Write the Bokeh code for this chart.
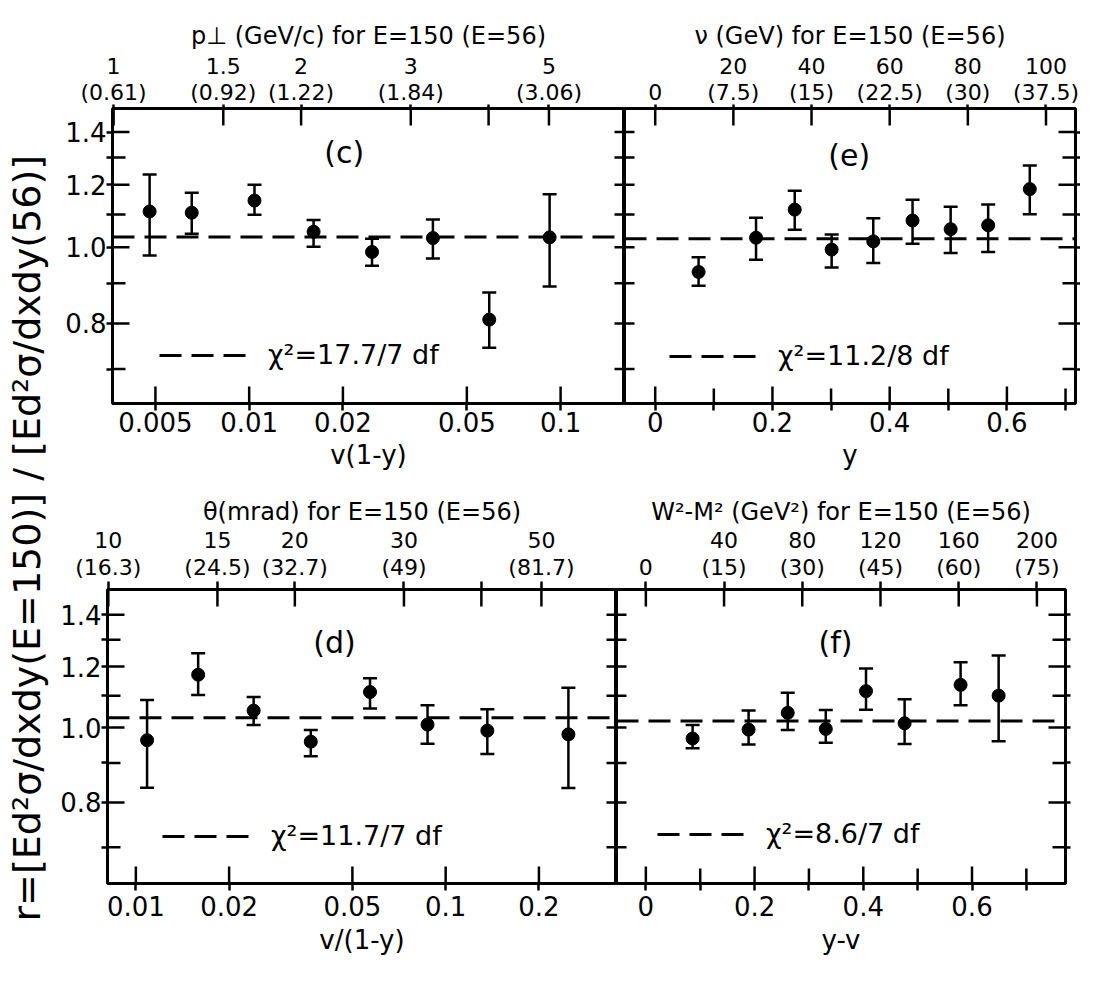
import math
from bokeh.plotting import figure
from bokeh.models import (FixedTicker, CustomJSTickFormatter, LogAxis, LinearAxis,
                          Whisker, TeeHead, ColumnDataSource, Legend, LegendItem,
                          Label, Range1d)
from bokeh.core.properties import value
from bokeh.layouts import row, column
from bokeh.embed import file_html
from bokeh.resources import INLINE

FONT = "DejaVu Sans"

# ---------------- data ----------------
# (c)  r vs v(1-y)
c_x  = [0.00479, 0.00654, 0.0104, 0.0161, 0.0248, 0.0389, 0.059, 0.0922]
c_r  = [1.110, 1.106, 1.146, 1.046, 0.986, 1.027, 0.809, 1.029]
c_hi = [1.237, 1.172, 1.200, 1.083, 1.025, 1.084, 0.876, 1.167]
c_lo = [0.976, 1.040, 1.099, 1.001, 0.947, 0.967, 0.745, 0.891]
c_fit = 1.03
c_chi = "χ²=17.7/7 df"
c_xticks = [0.005, 0.01, 0.02, 0.05, 0.1]
c_xlabels = ["0.005", "0.01", "0.02", "0.05", "0.1"]
c_top_p = [1, 1.5, 2, 3, 4, 5]            # p_perp (GeV/c), E=150
c_top_upper = ["1", "1.5", "2", "3", "", "5"]
c_top_lower = ["(0.61)", "(0.92)", "(1.22)", "(1.84)", "", "(3.06)"]
C_P = 0.00367                               # v(1-y) at p_perp = 1 GeV/c

# (e)  r vs y
e_x  = [0.074, 0.172, 0.238, 0.301, 0.372, 0.439, 0.504, 0.568, 0.639]
e_r  = [0.930, 1.028, 1.116, 0.993, 1.017, 1.081, 1.054, 1.066, 1.185]
e_hi = [0.971, 1.090, 1.179, 1.038, 1.088, 1.149, 1.125, 1.133, 1.270]
e_lo = [0.893, 0.964, 1.052, 0.942, 0.955, 1.010, 0.983, 0.986, 1.101]
e_fit = 1.025
e_chi = "χ²=11.2/8 df"
e_xticks = [0, 0.2, 0.4, 0.6]
e_xminor = [0.1, 0.3, 0.5, 0.7]
e_xlabels = ["0", "0.2", "0.4", "0.6"]
e_top_nu = [0, 20, 40, 60, 80, 100]         # nu (GeV), E=150
e_top_upper = ["", "20", "40", "60", "80", "100"]
e_top_lower = ["0", "(7.5)", "(15)", "(22.5)", "(30)", "(37.5)"]
E_BEAM = 150.0

# (d)  r vs v/(1-y)
d_x  = [0.01087, 0.01589, 0.0240, 0.0367, 0.0570, 0.0874, 0.1363, 0.249]
d_r  = [0.963, 1.171, 1.052, 0.959, 1.112, 1.009, 0.991, 0.980]
d_hi = [1.086, 1.248, 1.096, 0.993, 1.159, 1.069, 1.056, 1.126]
d_lo = [0.836, 1.102, 1.008, 0.918, 1.059, 0.953, 0.924, 0.835]
d_fit = 1.03
d_chi = "χ²=11.7/7 df"
d_xticks = [0.01, 0.02, 0.05, 0.1, 0.2]
d_xlabels = ["0.01", "0.02", "0.05", "0.1", "0.2"]
d_top_theta = [10, 15, 20, 30, 40, 50]      # theta (mrad), E=150
d_top_upper = ["10", "15", "20", "30", "", "50"]
d_top_lower = ["(16.3)", "(24.5)", "(32.7)", "(49)", "", "(81.7)"]
C_TH = 8.15e-5                              # v/(1-y) per mrad^2

# (f)  r vs y-v
f_x  = [0.086, 0.189, 0.261, 0.331, 0.405, 0.476, 0.579, 0.649]
f_r  = [0.968, 0.994, 1.045, 0.996, 1.115, 1.013, 1.136, 1.100]
f_hi = [1.008, 1.052, 1.110, 1.054, 1.193, 1.088, 1.215, 1.240]
f_lo = [0.940, 0.951, 0.993, 0.956, 1.055, 0.952, 1.069, 0.960]
f_fit = 1.02
f_chi = "χ²=8.6/7 df"
f_xticks = [0, 0.2, 0.4, 0.6]
f_xminor = [0.1, 0.3, 0.5, 0.7]
f_xlabels = ["0", "0.2", "0.4", "0.6"]
f_top_w = [0, 40, 80, 120, 160, 200]        # W^2-M^2 (GeV^2), E=150
f_top_upper = ["", "40", "80", "120", "160", "200"]
f_top_lower = ["0", "(15)", "(30)", "(45)", "(60)", "(75)"]
W_PER_UNIT = 278.0                          # GeV^2 per unit of (y-v)

Y_TICKS = [0.8, 1.0, 1.2, 1.4]
Y_MINOR = [0.7, 0.9, 1.1, 1.3]
Y_LABELS = ["0.8", "1.0", "1.2", "1.4"]

Y_LABEL_TEXT = "r=[Ed²σ/dxdy(E=150)] / [Ed²σ/dxdy(56)]"


# ---------------- helpers ----------------
def fmt(ticks, labels):
    return CustomJSTickFormatter(args=dict(t=list(ticks), l=list(labels)), code="""
let best = 0, bd = Infinity;
for (let i = 0; i < t.length; i++) {
  const d = Math.abs(tick - t[i]);
  if (d < bd) { bd = d; best = i; }
}
return l[best];""")


def style_axis(ax):
    ax.major_tick_in = 0
    ax.major_tick_out = 0
    ax.minor_tick_in = 0
    ax.minor_tick_out = 0
    ax.axis_line_color = None
    ax.major_tick_line_color = None
    ax.minor_tick_line_color = None
    ax.major_label_text_font = FONT
    ax.major_label_text_color = "black"
    ax.axis_label_text_font = FONT
    ax.axis_label_text_font_style = "normal"
    ax.axis_label_text_color = "black"


def tick_out(ax, length, minor=True):
    ax.major_tick_out = length
    ax.major_tick_line_color = "black"
    ax.major_tick_line_width = 2.5
    if minor:
        ax.minor_tick_out = length
        ax.minor_tick_line_color = "black"
        ax.minor_tick_line_width = 2.5


def panel(cfg):
    xt = cfg["xtype"]
    labeled = cfg["left_labels"]
    p = figure(width=cfg["w"], height=cfg["h"], x_axis_type=xt, y_axis_type="log",
               x_range=Range1d(*cfg["xr"]), y_range=Range1d(*cfg["yr"]),
               y_axis_location="left" if labeled else None,
               output_backend="svg", toolbar_location=None,
               min_border_left=cfg["bl"], min_border_right=cfg["br"],
               min_border_top=cfg["bt"], min_border_bottom=cfg["bb"])
    p.grid.visible = False
    p.outline_line_color = "black"
    p.outline_line_width = 3
    p.background_fill_color = "white"
    p.border_fill_color = "white"
    x0, x1 = cfg["xr"]
    y0, y1 = cfg["yr"]
    fw = cfg["w"] - cfg["bl"] - cfg["br"]
    fh = cfg["h"] - cfg["bt"] - cfg["bb"]

    def xmove(v, px):
        if xt == "log":
            return v * math.exp(px * math.log(x1 / x0) / fw)
        return v + px * (x1 - x0) / fw

    def ymove(v, px):
        return v * math.exp(px * math.log(y1 / y0) / fh)

    # bottom axis
    bx = p.xaxis[0]
    bx.ticker = FixedTicker(ticks=cfg["xticks"], minor_ticks=cfg.get("xminor", []))
    bx.formatter = fmt(cfg["xticks"], cfg["xlabels"])
    style_axis(bx)
    tick_out(bx, 7)
    bx.major_label_text_font_size = "26px"
    bx.major_label_standoff = cfg["bs"] - 7
    bx.axis_label = cfg["xlabel"]
    bx.axis_label_text_font_size = "26px"
    bx.axis_label_standoff = cfg["bls"]

    if labeled:
        ly = p.yaxis[0]
        ly.ticker = FixedTicker(ticks=Y_TICKS, minor_ticks=Y_MINOR)
        ly.formatter = fmt(Y_TICKS, Y_LABELS)
        style_axis(ly)
        tick_out(ly, 6)
        ly.major_label_text_font_size = "26px"
        ly.major_label_standoff = 0
    else:
        ry = LogAxis(ticker=FixedTicker(ticks=Y_TICKS, minor_ticks=Y_MINOR),
                     formatter=CustomJSTickFormatter(code="return '';"))
        style_axis(ry)
        tick_out(ry, 5)
        ry.major_label_standoff = 0
        ry.major_label_text_font_size = "1px"
        p.add_layout(ry, "right")

    # top axes (inner: parenthesised E=56 values; outer: E=150 values + title)
    TopAxis = LogAxis if xt == "log" else LinearAxis
    inner = TopAxis(ticker=FixedTicker(ticks=cfg["tp"]), formatter=fmt(cfg["tp"], cfg["t_lower"]))
    style_axis(inner)
    tick_out(inner, cfg["tt"], minor=False)
    inner.major_label_text_font_size = "22px"
    inner.major_label_standoff = cfg["s1"] - cfg["tt"]
    p.add_layout(inner, "above")
    outer = TopAxis(ticker=FixedTicker(ticks=cfg["tp"]), formatter=fmt(cfg["tp"], cfg["t_upper"]))
    style_axis(outer)
    outer.major_label_text_font_size = "22px"
    outer.major_label_standoff = cfg["s2"]
    outer.axis_label = cfg["title"]
    outer.axis_label_text_font_size = "24px"
    outer.axis_label_standoff = cfg["s3"]
    p.add_layout(outer, "above")

    # inward tick marks: one continuous path per side along the frame edge
    def edge_path(ticks_len, along0, along1, horizontal, edge, inward):
        A, B = [along0], [edge]
        for t, L in sorted(ticks_len):
            A += [t, t, t]
            B += [edge, inward(edge, L), edge]
        A.append(along1)
        B.append(edge)
        if horizontal:
            p.line(A, B, line_color="black", line_width=2.5)
        else:
            p.line(B, A, line_color="black", line_width=2.5)

    bottom = [(v, 17) for v in cfg["xticks"]] + [(v, 15) for v in cfg.get("xminor", [])]
    edge_path(bottom, x0, x1, True, y0, lambda e, L: ymove(e, L))
    top = [(v, 17) for v in cfg["tp"]]
    edge_path(top, x0, x1, True, y1, lambda e, L: ymove(e, -L))
    outer_len = [17] * len(Y_TICKS) + [13] * len(Y_MINOR)
    shared_len = [10] * (len(Y_TICKS) + len(Y_MINOR))
    left_len = outer_len if labeled else shared_len
    right_len = shared_len if labeled else outer_len
    edge_path(list(zip(Y_TICKS + Y_MINOR, left_len)), y0, y1, False, x0,
              lambda e, L: xmove(e, L))
    edge_path(list(zip(Y_TICKS + Y_MINOR, right_len)), y0, y1, False, x1,
              lambda e, L: xmove(e, -L))

    # data
    src = ColumnDataSource(dict(x=cfg["x"], r=cfg["r"], hi=cfg["hi"], lo=cfg["lo"]))
    p.add_layout(Whisker(base="x", upper="hi", lower="lo", source=src, dimension="height",
                         line_width=2.5, line_color="black",
                         upper_head=TeeHead(size=14, line_width=2.5, line_color="black"),
                         lower_head=TeeHead(size=14, line_width=2.5, line_color="black")))
    p.scatter("x", "r", source=src, size=13, marker="circle",
              fill_color="black", line_color="black")

    # fit line (constant) across the panel
    fit = p.line(x=[x0, x1], y=[cfg["fit"], cfg["fit"]], line_dash="22 10",
                 line_width=3, line_color="black")
    leg = Legend(items=[LegendItem(label=value(cfg["chi"]), renderers=[fit])],
                 location=cfg["legloc"], glyph_width=93, glyph_height=30,
                 label_text_font=FONT, label_text_font_size="27px", label_standoff=16,
                 label_text_color="black",
                 padding=0, margin=0, spacing=0, border_line_color=None,
                 background_fill_alpha=0)
    p.add_layout(leg)

    p.add_layout(Label(x=cfg["tag_xy"][0], y=cfg["tag_xy"][1], text=cfg["tag"],
                       text_font=FONT, text_font_size="30px", text_color="black",
                       text_align="center", text_baseline="middle"))
    return p


TOP_H, TOP_BT, TOP_BB = 484, 108, 81
BOT_H, BOT_BT, BOT_BB = 483, 105, 84
TOP_YR = (0.633, 1.50)
BOT_YR = (0.628, 1.51)

pc = panel(dict(xtype="log", w=572, h=TOP_H, bl=60, br=0, bt=TOP_BT, bb=TOP_BB,
                xr=(0.00364, 0.1604), yr=TOP_YR,
                xticks=c_xticks, xlabels=c_xlabels, xlabel="v(1-y)", bs=8, bls=5,
                left_labels=True,
                tp=[C_P * v * v for v in c_top_p], t_upper=c_top_upper, t_lower=c_top_lower,
                title="p⊥ (GeV/c) for E=150 (E=56)", tt=4, s1=4, s2=3, s3=5,
                x=c_x, r=c_r, hi=c_hi, lo=c_lo, fit=c_fit, chi=c_chi, legloc=(47, 33),
                tag="(c)", tag_xy=(0.0202, 1.319)))

pe = panel(dict(xtype="linear", w=456, h=TOP_H, bl=0, br=5, bt=TOP_BT, bb=TOP_BB,
                xr=(-0.0524, 0.717), yr=TOP_YR,
                xticks=e_xticks, xminor=e_xminor, xlabels=e_xlabels, xlabel="y", bs=8, bls=5,
                left_labels=False,
                tp=[v / E_BEAM for v in e_top_nu], t_upper=e_top_upper, t_lower=e_top_lower,
                title="ν (GeV) for E=150 (E=56)", tt=4, s1=4, s2=3, s3=5,
                x=e_x, r=e_r, hi=e_hi, lo=e_lo, fit=e_fit, chi=e_chi, legloc=(45, 32),
                tag="(e)", tag_xy=(0.331, 1.307)))

pd = panel(dict(xtype="log", w=564, h=BOT_H, bl=55, br=0, bt=BOT_BT, bb=BOT_BB,
                xr=(0.0081, 0.356), yr=BOT_YR,
                xticks=d_xticks, xlabels=d_xlabels, xlabel="v/(1-y)", bs=12, bls=6,
                left_labels=True,
                tp=[C_TH * v * v for v in d_top_theta], t_upper=d_top_upper, t_lower=d_top_lower,
                title="θ(mrad) for E=150 (E=56)", tt=8, s1=10, s2=4, s3=3,
                x=d_x, r=d_r, hi=d_hi, lo=d_lo, fit=d_fit, chi=d_chi, legloc=(55, 32),
                tag="(d)", tag_xy=(0.0438, 1.29)))

pf = panel(dict(xtype="linear", w=464, h=BOT_H, bl=0, br=15, bt=BOT_BT, bb=BOT_BB,
                xr=(-0.054, 0.772), yr=BOT_YR,
                xticks=f_xticks, xminor=f_xminor, xlabels=f_xlabels, xlabel="y-v", bs=12, bls=6,
                left_labels=False,
                tp=[v / W_PER_UNIT for v in f_top_w], t_upper=f_top_upper, t_lower=f_top_lower,
                title="W²-M² (GeV²) for E=150 (E=56)", tt=8, s1=10, s2=4, s3=3,
                x=f_x, r=f_r, hi=f_hi, lo=f_lo, fit=f_fit, chi=f_chi, legloc=(41, 34),
                tag="(f)", tag_xy=(0.349, 1.288)))

# shared vertical axis title
TOTAL_H = TOP_H + BOT_H
yl = figure(width=52, height=TOTAL_H, x_range=Range1d(0, 1), y_range=Range1d(0, 1),
            x_axis_location=None, y_axis_location=None, output_backend="svg",
            toolbar_location=None, min_border=0)
yl.grid.visible = False
yl.outline_line_color = None
yl.add_layout(Label(x=0.5, y=0.444, text=Y_LABEL_TEXT, angle=math.pi / 2,
                    text_font=FONT, text_font_size="38px", text_color="black",
                    text_align="center", text_baseline="middle"))

layout = row(yl, column(row(pc, pe), row(pd, pf)))

open("out.html", "w").write(file_html(layout, INLINE))
